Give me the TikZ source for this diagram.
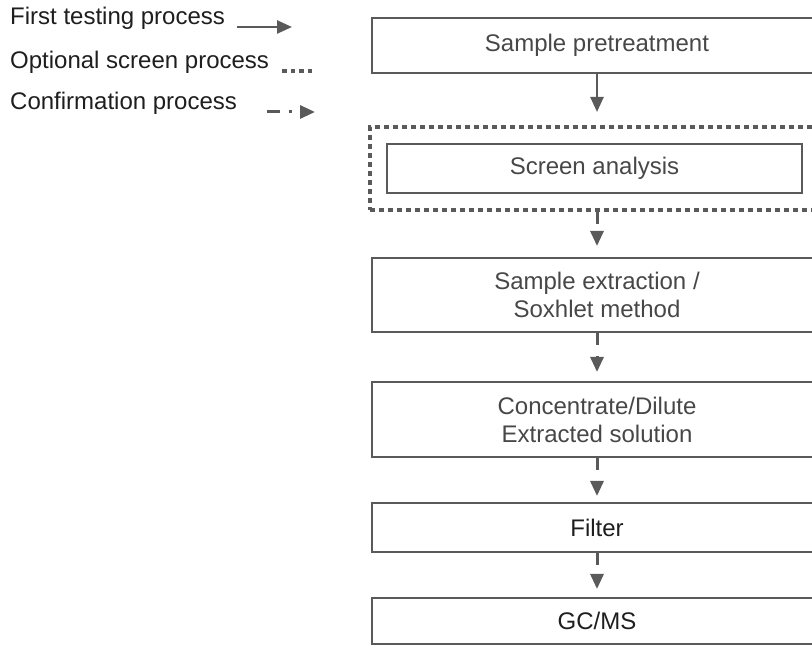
\documentclass[tikz,border=0pt]{standalone}
\usepackage{fontspec}
\setmainfont{Liberation Sans}
\usetikzlibrary{shapes,arrows,arrows.meta,positioning}
\definecolor{linegray}{HTML}{5A5A5A}
\definecolor{textgray}{HTML}{474747}
\definecolor{textdark}{HTML}{1E1E1E}

\begin{document}
\begin{tikzpicture}[
    x=1pt, y=1pt,
    font=\fontsize{24}{28}\selectfont,
    step box/.style={rectangle, draw=linegray, line width=2pt, text=textgray, minimum width=450pt, align=center, inner sep=0pt},
    screen box/.style={rectangle, draw=linegray, line width=4pt, dash pattern=on 5pt off 4pt, minimum width=454pt, minimum height=83pt},
    legend/.style={anchor=base west, inner sep=0pt, text=textdark},
    arrow/.style={draw=linegray, line width=2.5pt, -{Triangle[length=15pt,width=13pt]}},
    confirm/.style={arrow, line width=3pt, dash pattern=on 12pt off 11pt}
]
\clip (0,0) rectangle (812,645);
% Legend
\node[legend] (legfirst) at (10,620) {First testing process};
\node[legend] (legoption) at (10,576) {Optional screen process};
\node[legend] (legconfirm) at (10,535) {Confirmation process};
\coordinate (firstA) at (237,618);
\coordinate (firstB) at (292,618);
\coordinate (optionA) at (282,574);
\coordinate (optionB) at (314,574);
\coordinate (confirmA) at (267,533);
\coordinate (confirmB) at (315,533);
\draw[arrow] (firstA) -- (firstB);
\draw[draw=linegray, line width=4pt, dash pattern=on 4.5pt off 4pt] (optionA) -- (optionB);
\draw[arrow, line width=3pt, dash pattern=on 13pt off 9pt on 3pt off 30pt] (confirmA) -- (confirmB);
% Pretreatment
\node[step box, minimum height=55pt] (pretreat) at (597,599.5) {Sample pretreatment};
% Optional screen
\node[screen box, below of=pretreat, node distance=123pt] (option) {};
\node[step box, minimum width=415pt, minimum height=49pt, xshift=-2.5pt] (screen) at (option.center) {Screen analysis};
% Extraction
\node[step box, minimum height=74pt, below of=option, node distance=126.5pt] (extract) {Sample extraction /\\Soxhlet method};
% Concentrate
\node[step box, minimum height=75pt, below of=extract, node distance=124.5pt] (conc) {Concentrate/Dilute\\Extracted solution};
% Filter
\node[step box, minimum height=49pt, text=textdark, below of=conc, node distance=108pt] (filter) {Filter};
% GC/MS
\node[step box, minimum height=46pt, text=textdark, below of=filter, node distance=93.5pt] (gcms) {GC/MS};
% Arrows
\draw[arrow, shorten >=13pt] (pretreat) -- (option);
\draw[confirm, shorten >=11pt] (option) -- (extract);
\draw[confirm, shorten >=9pt] (extract) -- (conc);
\draw[confirm, shorten >=6pt] (conc) -- (filter);
\draw[confirm, shorten >=8pt] (filter) -- (gcms);
\end{tikzpicture}
\end{document}
